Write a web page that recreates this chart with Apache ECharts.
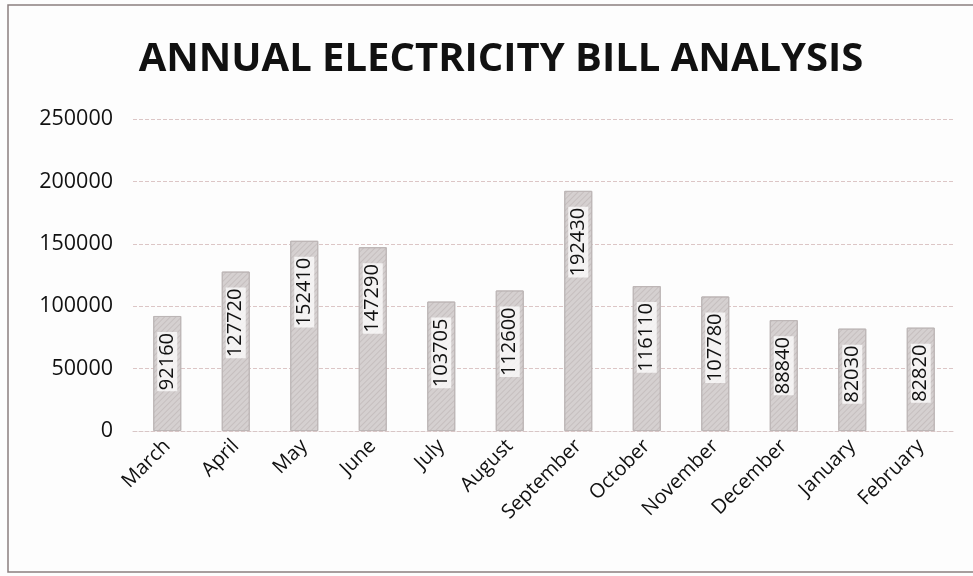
<!DOCTYPE html>
<html>
<head>
<meta charset="utf-8">
<script src="https://cdn.jsdelivr.net/npm/echarts@6/dist/echarts.min.js"></script>
<style>html,body{margin:0;padding:0;background:#fff}#c{width:973px;height:576px}</style>
</head>
<body>
<div id="c"></div>
<script>
const months = ['March','April','May','June','July','August','September','October','November','December','January','February'];
const bills = [92160,127720,152410,147290,103705,112600,192430,116110,107780,88840,82030,82820];
const yTicks = [0,50000,100000,150000,200000,250000];
const titleText = 'ANNUAL ELECTRICITY BILL ANALYSIS';

const chart = echarts.init(document.getElementById('c'));
chart.setOption({
  backgroundColor: '#fdfdfd',
  animation: false,
  title: {
    text: titleText, left: 496, top: 35, textAlign: 'center',
    textStyle: {fontFamily: 'Open Sans', fontWeight: 'bold', fontSize: 40, color: '#111'}
  },
  graphic: [{
    type: 'rect', shape: {x: 8, y: 5, width: 975, height: 567},
    style: {fill: 'none', stroke: '#8a7f7f', lineWidth: 1.5}, silent: true
  }],
  grid: {left: 133, right: 18, top: 119, bottom: 145},
  xAxis: {
    type: 'category', data: months,
    axisLine: {lineStyle: {color: '#d8c6c6', type: [4, 2]}},
    axisTick: {show: false},
    axisLabel: {rotate: 45, fontFamily: 'Open Sans', fontSize: 20, color: '#111', margin: 12, interval: 0}
  },
  yAxis: {
    type: 'value', min: yTicks[0], max: yTicks[yTicks.length - 1], interval: 50000,
    axisLine: {show: false}, axisTick: {show: false},
    axisLabel: {fontFamily: 'Open Sans', fontSize: 21.5, color: '#111', margin: 20, formatter: v => String(v)},
    splitLine: {lineStyle: {color: '#dcc6c6', type: [4, 2]}}
  },
  series: [{
    type: 'bar', data: bills, barWidth: 28,
    itemStyle: {
      color: '#d5d0d0', borderColor: '#bdb6b6', borderWidth: 1,
      decal: {symbol: 'rect', dashArrayX: [1, 0], dashArrayY: [1, 3], rotation: -Math.PI / 4, color: 'rgba(150,140,140,0.25)'}
    },
    label: {
      show: true, position: 'insideTop', rotate: 90, distance: 16,
      align: 'right', verticalAlign: 'middle',
      fontFamily: 'Open Sans', fontSize: 20, color: '#111',
      backgroundColor: 'rgba(255,255,255,0.75)', padding: [0, 1]
    }
  }]
});
</script>
</body>
</html>
